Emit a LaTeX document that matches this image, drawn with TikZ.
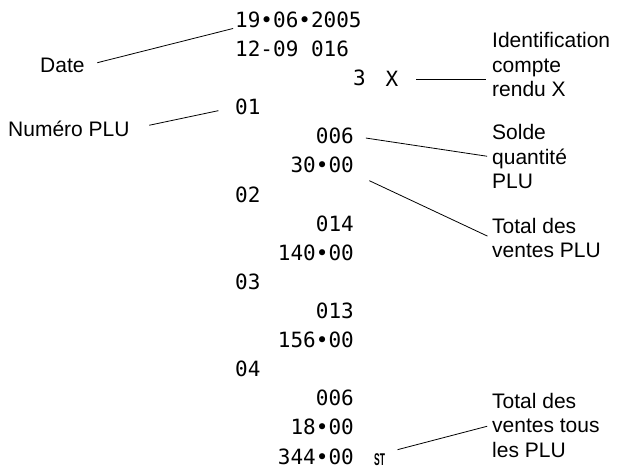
\documentclass[tikz,border=0pt]{standalone}
\usepackage{fontspec}
\setmainfont{Liberation Sans}
\newfontfamily\rcptfont{DejaVu Sans Mono}
\usetikzlibrary{positioning}

\begin{document}
\begin{tikzpicture}[
    x=1bp, y=-1bp,
    rcpt/.style={font=\rcptfont\fontsize{21bp}{25bp}\selectfont, inner sep=0pt},
    lbl/.style={font=\fontsize{21bp}{24.5bp}\selectfont, align=left, inner sep=0pt},
    leader/.style={line width=0.8bp}
]
\useasboundingbox (0,0) rectangle (618,474);

% Receipt lines
\node[rcpt, anchor=base west] (rdate) at (235,27.5) {19•06•2005};
\node[rcpt, anchor=base west] (rtime) at (235,56.6) {12-09 016};
\node[rcpt, anchor=base east] (rthree) at (366,85.7) {3};
\node[rcpt, anchor=base] (rx) at (392,87) {X};
\node[rcpt, anchor=base west] (rplua) at (235,114.8) {01};
\node[rcpt, anchor=base east] (rqtya) at (354,143.9) {006};
\node[rcpt, anchor=base east] (rsuma) at (354,173) {30•00};
\node[rcpt, anchor=base west] (rplub) at (235,202.1) {02};
\node[rcpt, anchor=base east] (rqtyb) at (354,231.2) {014};
\node[rcpt, anchor=base east] (rsumb) at (354,260.3) {140•00};
\node[rcpt, anchor=base west] (rpluc) at (235,289.4) {03};
\node[rcpt, anchor=base east] (rqtyc) at (354,318.5) {013};
\node[rcpt, anchor=base east] (rsumc) at (354,347.6) {156•00};
\node[rcpt, anchor=base west] (rplud) at (235,376.7) {04};
\node[rcpt, anchor=base east] (rqtyd) at (354,405.8) {006};
\node[rcpt, anchor=base east] (rsumd) at (354,434.9) {18•00};
\node[rcpt, anchor=base east] (rtotal) at (354,464) {344•00};
\node[inner sep=0pt, font=\fontsize{17bp}{17bp}\selectfont\bfseries,
      anchor=base west, xscale=0.5, transform shape] (rst) at (374,465) {ST};

% Labels
\node[lbl, anchor=base west] (lbldate) at (40,73) {Date};
\node[lbl, anchor=base west] (lblplu) at (8,137) {Numéro PLU};
\node[lbl, anchor=base west] (lblident) at (492,97) {Identification\\compte\\rendu X};
\node[lbl, anchor=base west] (lblsolde) at (492,189) {Solde\\quantité\\PLU};
\node[lbl, anchor=base west] (lblsales) at (492,258) {Total des\\ventes PLU};
\node[lbl, anchor=base west] (lblall) at (492,457) {Total des\\ventes tous\\les PLU};

% Leader lines
\draw[leader, shorten <=13, shorten >=2] (lbldate.east) -- (rdate.south west);
\draw[leader, shorten <=20, shorten >=17] (lblplu.east) -- (rplua.west);
\draw[leader, shorten <=18, shorten >=6] (rx.east) -- (rx.east -| lblident.west);
\draw[leader, shorten <=12, shorten >=5] (rqtya.east) -- (lblsolde.west);
\draw[leader, shorten <=17, shorten >=5] (rsuma.south east) -- (lblsales.west);
\draw[leader, shorten <=13, shorten >=5] (rst.north east) -- (lblall.west);

\end{tikzpicture}
\end{document}
